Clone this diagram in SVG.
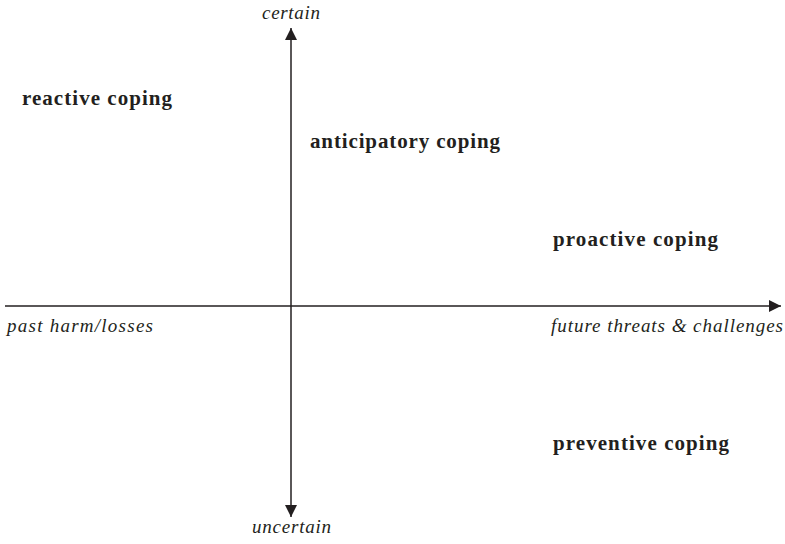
<svg xmlns="http://www.w3.org/2000/svg" width="785" height="544" viewBox="0 0 785 544">
<style>
.lbl{font-family:"Liberation Serif",serif;font-weight:bold;font-size:21px;fill:#231f20}
.ax{font-family:"Liberation Serif",serif;font-style:italic;font-size:19px;fill:#231f20}
.line{stroke:#231f20;stroke-width:1.5;fill:none}
</style>
<defs>
<marker id="arr" markerUnits="userSpaceOnUse" markerWidth="12" markerHeight="12" viewBox="0 0 12 12" refX="12" refY="6" orient="auto-start-reverse">
<path d="M0,0 L12,6 L0,12 Z" fill="#231f20"/>
</marker>
</defs>
<g id="connectors">
<line class="line" x1="291" y1="28" x2="291" y2="517" marker-start="url(#arr)" marker-end="url(#arr)"/>
<line class="line" x1="5" y1="306" x2="781" y2="306" marker-end="url(#arr)"/>
</g>
<g id="axis-labels">
<text class="ax" x="262" y="19" textLength="58">certain</text>
<text class="ax" x="252" y="533" textLength="79">uncertain</text>
<text class="ax" x="7" y="332" textLength="146">past harm/losses</text>
<text class="ax" x="551" y="332" textLength="232">future threats &amp; challenges</text>
</g>
<g id="reactive"><text class="lbl" x="22" y="105" textLength="150">reactive coping</text></g>
<g id="anticipatory"><text class="lbl" x="310" y="148" textLength="190">anticipatory coping</text></g>
<g id="proactive"><text class="lbl" x="553" y="246" textLength="165">proactive coping</text></g>
<g id="preventive"><text class="lbl" x="553" y="450" textLength="176">preventive coping</text></g>
</svg>
